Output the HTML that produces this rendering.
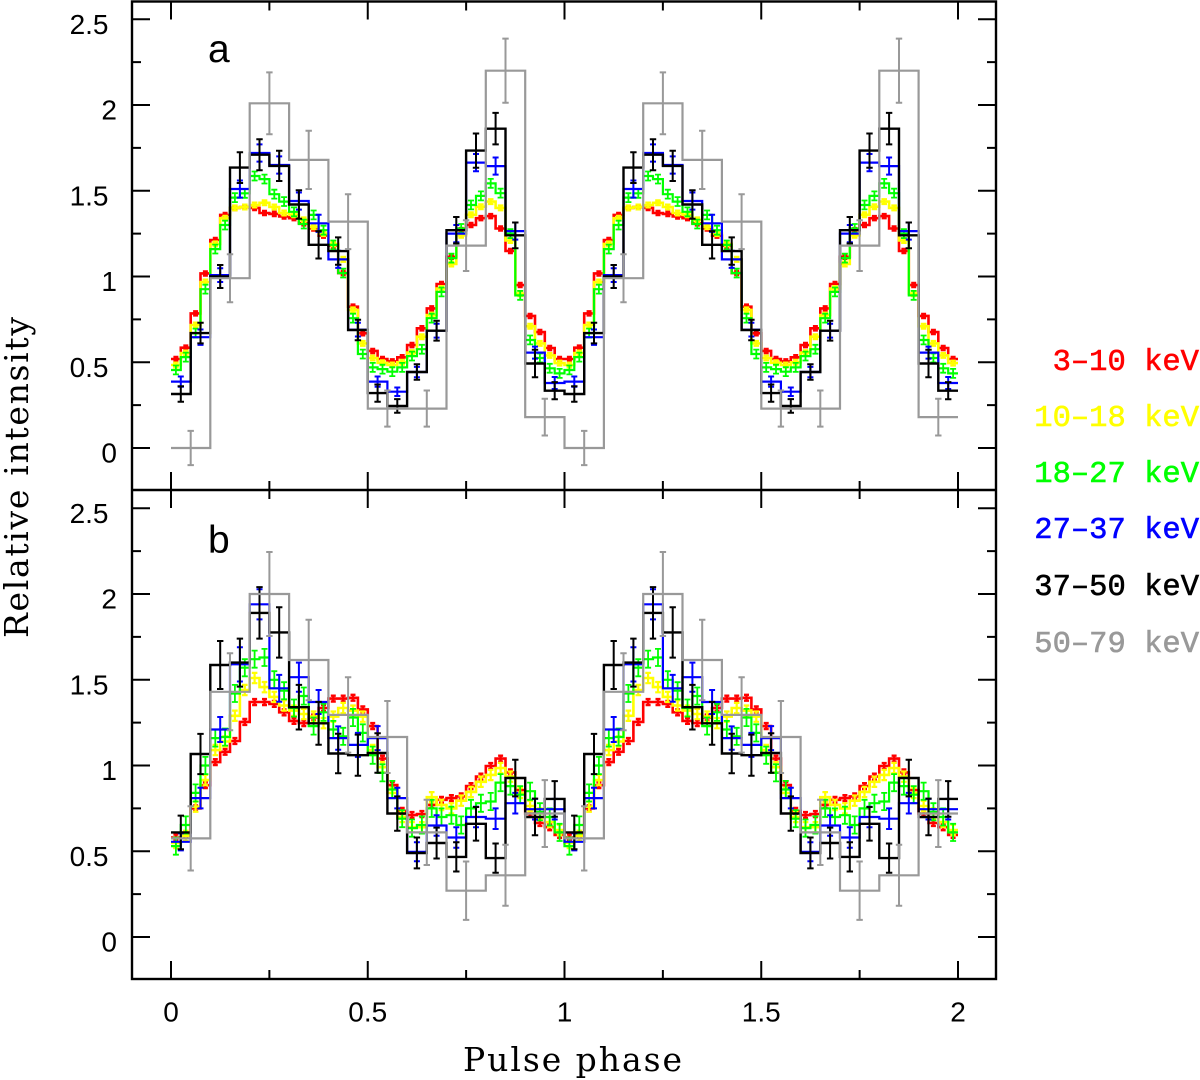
<!DOCTYPE html>
<html>
<head>
<meta charset="utf-8">
<title>Pulse profiles</title>
<style>
html,body{margin:0;padding:0;background:#fff;}
svg{display:block;}
.tick-label{font-family:"Liberation Sans",sans-serif;font-size:28px;fill:#000;}
.panel-label{font-family:"Liberation Sans",sans-serif;font-size:39px;fill:#000;}
.axis-title{font-family:"DejaVu Serif",serif;font-size:33px;fill:#000;}
.legend-label{font-family:"Liberation Mono",monospace;font-size:30.5px;stroke-width:0.6px;}
</style>
</head>
<body>
<svg id="chart" xmlns="http://www.w3.org/2000/svg" width="1200" height="1080" viewBox="0 0 1200 1080">
  <rect x="0" y="0" width="1200" height="1080" fill="#fff"/>
  <g id="series-layer"></g>
  <g id="axes-layer"></g>
  <text class="panel-label" x="208" y="62">a</text>
  <text class="panel-label" x="208" y="553">b</text>
  <text class="axis-title" x="463" y="1071" textLength="219" lengthAdjust="spacing">Pulse phase</text>
  <text class="axis-title" transform="translate(28,638) rotate(-90)" x="0" y="0" textLength="321" lengthAdjust="spacing">Relative intensity</text>
  <g text-anchor="end">
    <text class="legend-label" x="1199" y="370" fill="#ff0000" stroke="#ff0000">3–10 keV</text>
    <text class="legend-label" x="1199" y="426" fill="#ffff00" stroke="#ffff00">10–18 keV</text>
    <text class="legend-label" x="1199" y="482" fill="#00ff00" stroke="#00ff00">18–27 keV</text>
    <text class="legend-label" x="1199" y="538" fill="#0000ff" stroke="#0000ff">27–37 keV</text>
    <text class="legend-label" x="1199" y="595" fill="#000000" stroke="#000000">37–50 keV</text>
    <text class="legend-label" x="1199" y="652" fill="#999999" stroke="#999999">50–79 keV</text>
  </g>
</svg>
<script>
// Axis tick values
const xMajorTicks = [0, 0.5, 1, 1.5, 2];
const xMinorTicks = [0.25, 0.75, 1.25, 1.75];
const yMajorTicks = [0, 0.5, 1, 1.5, 2, 2.5];
const yMinorTicks = [0.25, 0.75, 1.25, 1.75, 2.25];
const periodsShown = [0, 1];

// Panel a: one pulse period per series
const redA = [.519,.585,.785,1.018,1.213,1.359,1.40,1.405,1.40,1.37,1.365,1.35,1.34,1.31,1.28,1.238,1.18,1.02,.824,.669,.566,.519,.505,.529,.60,.698,.814,.956,1.115,1.27,1.30,1.34,1.352,1.28,1.149,.95,.77,.676,.583,.519];
const yellowA = [.484,.554,.717,.968,1.19,1.34,1.40,1.405,1.417,1.43,1.405,1.37,1.36,1.33,1.29,1.25,1.19,1.10,.805,.61,.525,.497,.484,.50,.556,.649,.775,.93,1.073,1.24,1.36,1.407,1.437,1.40,1.21,.90,.71,.61,.54,.495];
const greenA = [.455,.53,.67,.926,1.16,1.30,1.46,1.485,1.586,1.568,1.48,1.437,1.377,1.306,1.359,1.27,1.184,1.02,.757,.548,.47,.46,.445,.47,.536,.576,.757,.91,1.107,1.28,1.417,1.47,1.543,1.486,1.25,.89,.63,.525,.465,.435];
const blueA = [.387,.646,1.008,1.51,1.72,1.65,1.44,1.31,1.10,.69,.387,.328,.443,.684,1.25,1.664,1.644,1.265,.556,.379];
const blackA = [.315,.67,1.0,1.635,1.71,1.645,1.42,1.185,1.148,.688,.32,.245,.443,.684,1.27,1.734,1.862,1.24,.493,.334];
const grayA = [0,.99,2.01,1.68,1.32,.23,.23,1.18,2.2,.18];
const blueErrA = [.03,.045,.04,.05,.05,.05,.05,.05,.05,.04,.03,.025,.03,.04,.05,.05,.05,.05,.035,.035];
const blackErrA = [.045,.06,.067,.09,.09,.088,.083,.08,.08,.06,.05,.04,.045,.058,.077,.1,.092,.075,.08,.05];
const grayErrA = [.1,.14,.18,.17,.16,.105,.105,.148,.187,.107];

// Panel b: one pulse period per series
const redB = [.58,.60,.75,.885,1.02,1.08,1.143,1.254,1.37,1.37,1.359,1.31,1.26,1.247,1.28,1.335,1.39,1.39,1.395,1.327,1.23,1.04,.886,.735,.711,.717,.77,.80,.81,.82,.88,.935,.997,1.04,.96,.857,.72,.665,.64,.595];
const yellowB = [.548,.59,.76,.915,1.09,1.14,1.29,1.44,1.51,1.457,1.40,1.35,1.32,1.30,1.285,1.247,1.285,1.335,1.32,1.285,1.09,.99,.84,.70,.64,.64,.815,.77,.75,.795,.846,.905,.945,.985,.935,.84,.764,.72,.67,.624];
const greenB = [.53,.653,.84,1.0,1.16,1.166,1.42,1.57,1.62,1.63,1.50,1.436,1.335,1.405,1.23,1.31,1.21,1.17,1.28,1.19,1.06,.957,.86,.69,.635,.653,.75,.70,.71,.653,.75,.78,.79,.90,.88,.83,.85,.73,.70,.61];
const blueB = [.555,.81,1.21,1.59,1.94,1.45,1.515,1.37,1.16,1.12,1.16,.81,.497,.65,.58,.70,.69,.78,.745,.745];
const blackB = [.61,1.067,1.586,1.60,1.89,1.776,1.34,1.246,1.07,1.06,1.073,.72,.49,.548,.467,.66,.46,.927,.70,.805];
const grayB = [.575,1.43,2.0,1.615,1.295,1.166,.61,.27,.36,.72];
const blueErrB = [.05,.06,.073,.1,.088,.078,.085,.07,.068,.07,.07,.06,.055,.06,.06,.06,.06,.06,.06,.06];
const blackErrB = [.098,.117,.14,.14,.15,.147,.13,.125,.115,.12,.115,.1,.09,.09,.085,.098,.085,.107,.107,.104];
const grayErrB = [.187,.225,.245,.235,.22,.21,.19,.17,.178,.195];

// Constant error sizes of the low-energy bands
const redErrA = [.012];
const yellowErrA = [.014];
const greenErrA = [.026];
const redErrB = [.017];
const yellowErrB = [.03];
const greenErrB = [.05];

// Axis functions
function xScale(phase) { return 171 + phase * 393.5; }
function yScaleA(v) { return 448 - v * 171.5; }
function yScaleB(v) { return 937 - v * 171.5; }

const SVG_NS = 'http://www.w3.org/2000/svg';
const seriesLayer = document.getElementById('series-layer');
const axesLayer = document.getElementById('axes-layer');

function make(tag, parent) {
  const el = document.createElementNS(SVG_NS, tag);
  parent.appendChild(el);
  return el;
}

function drawSeries(parent, band, values, errs, color, yScale, width, capHalf, errWidth) {
  const n = values.length;
  const step = 1 / n;
  let line = '';
  let bars = '';
  periodsShown.forEach(function (period) {
    values.forEach(function (v, i) {
      const x0 = xScale(period + i * step);
      const x1 = xScale(period + (i + 1) * step);
      const xm = xScale(period + (i + 0.5) * step);
      const y = yScale(v);
      line += (line ? 'L' : 'M') + x0.toFixed(1) + ' ' + y.toFixed(1) + 'L' + x1.toFixed(1) + ' ' + y.toFixed(1);
      const e = errs[errs.length === 1 ? 0 : i];
      const yTop = yScale(v + e);
      const yBot = yScale(v - e);
      bars += 'M' + xm.toFixed(1) + ' ' + yTop.toFixed(1) + 'V' + yBot.toFixed(1);
      bars += 'M' + (xm - capHalf).toFixed(1) + ' ' + yTop.toFixed(1) + 'H' + (xm + capHalf).toFixed(1);
      bars += 'M' + (xm - capHalf).toFixed(1) + ' ' + yBot.toFixed(1) + 'H' + (xm + capHalf).toFixed(1);
    });
  });
  const g = make('g', parent);
  
  
  const stepPath = make('path', g);
  
  
  stepPath.setAttribute('d', line);
  stepPath.setAttribute('fill', 'none');
  stepPath.setAttribute('stroke', color);
  stepPath.setAttribute('stroke-width', width);
  const errPath = make('path', g);
  
  
  errPath.setAttribute('d', bars);
  errPath.setAttribute('fill', 'none');
  errPath.setAttribute('stroke', color);
  errPath.setAttribute('stroke-width', errWidth);
}

function drawPanel(suffix, yScale, d) {
  const g = make('g', seriesLayer);
  
  
  drawSeries(g, '3-10-kev-' + suffix, d.red, d.redErr, '#ff0000', yScale, 2.6, 2.5, 2.4);
  drawSeries(g, '10-18-kev-' + suffix, d.yellow, d.yellowErr, '#ffff00', yScale, 2.6, 2.8, 2.2);
  drawSeries(g, '18-27-kev-' + suffix, d.green, d.greenErr, '#00ff00', yScale, 2.2, 3, 1.8);
  drawSeries(g, '27-37-kev-' + suffix, d.blue, d.blueErr, '#0000ff', yScale, 2.2, 3, 2);
  drawSeries(g, '37-50-kev-' + suffix, d.black, d.blackErr, '#000000', yScale, 2.4, 3.2, 2);
  drawSeries(g, '50-79-kev-' + suffix, d.gray, d.grayErr, '#999999', yScale, 2.2, 3.2, 2);
}

drawPanel('a', yScaleA, { red: redA, yellow: yellowA, green: greenA, blue: blueA, black: blackA, gray: grayA,
  redErr: redErrA, yellowErr: yellowErrA, greenErr: greenErrA, blueErr: blueErrA, blackErr: blackErrA, grayErr: grayErrA });
drawPanel('b', yScaleB, { red: redB, yellow: yellowB, green: greenB, blue: blueB, black: blackB, gray: grayB,
  redErr: redErrB, yellowErr: yellowErrB, greenErr: greenErrB, blueErr: blueErrB, blackErr: blackErrB, grayErr: grayErrB });

function tickLine(x1, y1, x2, y2, name) {
  const l = make('line', axesLayer);
  
  
  l.setAttribute('x1', x1);
  l.setAttribute('y1', y1);
  l.setAttribute('x2', x2);
  l.setAttribute('y2', y2);
  l.setAttribute('stroke', '#000');
  l.setAttribute('stroke-width', 2);
}

function tickLabel(txt, x, y, anchor, name) {
  const t = make('text', axesLayer);
  
  
  t.setAttribute('class', 'tick-label');
  t.setAttribute('x', x);
  t.setAttribute('y', y);
  t.setAttribute('text-anchor', anchor);
  t.textContent = txt;
}

const frameLeft = 132, frameRight = 996, frameTop = 1.5, frameMid = 490, frameBottom = 979;
const majorLen = 18, minorLen = 9;

function drawYTicks(yScale, suffix) {
  yMajorTicks.forEach(function (v) {
    const y = yScale(v);
    tickLine(frameLeft, y, frameLeft + majorLen, y, 'y-tick-left-' + suffix);
    tickLine(frameRight, y, frameRight - majorLen, y, 'y-tick-right-' + suffix);
    const isInt = Number.isInteger(v);
    tickLabel(String(v), isInt ? 117 : 108.5, y + 14.5, 'end', 'y-tick-label-' + suffix);
  });
  yMinorTicks.forEach(function (v) {
    const y = yScale(v);
    tickLine(frameLeft, y, frameLeft + minorLen, y, 'y-minor-tick-left-' + suffix);
    tickLine(frameRight, y, frameRight - minorLen, y, 'y-minor-tick-right-' + suffix);
  });
}
drawYTicks(yScaleA, 'a');
drawYTicks(yScaleB, 'b');

function drawXTicks(list, len, kind) {
  list.forEach(function (p) {
    const x = xScale(p);
    tickLine(x, frameTop, x, frameTop + len, kind + '-top-a');
    tickLine(x, frameMid, x, frameMid - len, kind + '-bottom-a');
    tickLine(x, frameMid, x, frameMid + len, kind + '-top-b');
    tickLine(x, frameBottom, x, frameBottom - len, kind + '-bottom-b');
  });
}
drawXTicks(xMajorTicks, majorLen, 'x-tick');
drawXTicks(xMinorTicks, minorLen, 'x-minor-tick');
xMajorTicks.forEach(function (p) {
  tickLabel(String(p), xScale(p), 1021.5, 'middle', 'x-tick-label');
});

const frame = make('rect', axesLayer);


frame.setAttribute('x', frameLeft);
frame.setAttribute('y', frameTop);
frame.setAttribute('width', frameRight - frameLeft);
frame.setAttribute('height', frameBottom - frameTop);
frame.setAttribute('fill', 'none');
frame.setAttribute('stroke', '#000');
frame.setAttribute('stroke-width', 2.4);

const divider = make('line', axesLayer);


divider.setAttribute('x1', frameLeft);
divider.setAttribute('y1', frameMid);
divider.setAttribute('x2', frameRight);
divider.setAttribute('y2', frameMid);
divider.setAttribute('stroke', '#000');
divider.setAttribute('stroke-width', 2.4);
</script>
</body>
</html>
